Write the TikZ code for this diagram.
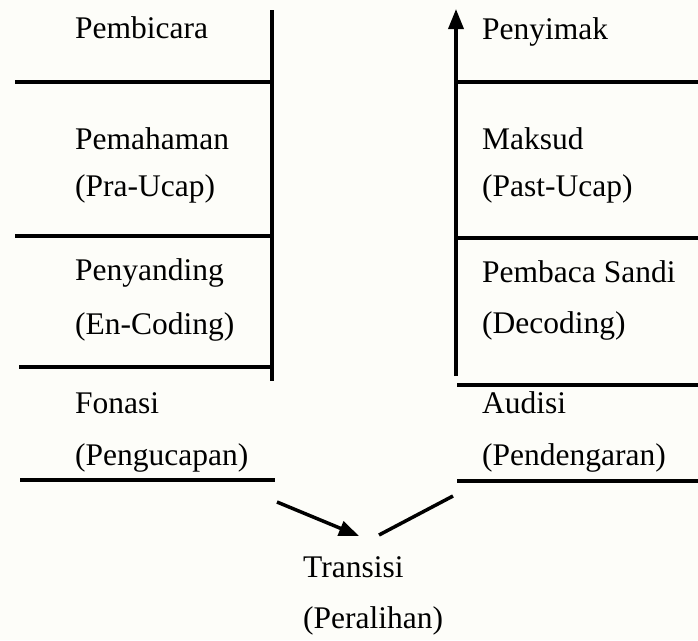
\documentclass[tikz,border=0pt]{standalone}
\usepackage{fontspec}
\setmainfont{Liberation Serif}
\usetikzlibrary{arrows.meta}
\definecolor{bgc}{RGB}{253,253,249}
\begin{document}
\begin{tikzpicture}[x=1pt,y=-1pt,
  lab/.style={anchor=base west,inner sep=0pt,font=\fontsize{31.5}{31.5}\selectfont},
  rule/.style={line width=3.5pt,black},
  arr/.style={line width=3.5pt,-{Triangle[length=20pt,width=15pt]}}]
\fill[bgc] (0,0) rectangle (698,640);
\useasboundingbox (0,0) rectangle (698,640);
% left column
\node[lab] (pembicara) at (75,38) {Pembicara};
\node[lab] (pemahaman) at (75,149) {Pemahaman};
\node[lab] (praucap) at (75,196) {(Pra-Ucap)};
\node[lab] (penyanding) at (75,280) {Penyanding};
\node[lab] (encoding) at (75,334) {(En-Coding)};
\node[lab] (fonasi) at (75,413) {Fonasi};
\node[lab] (pengucapan) at (75,465) {(Pengucapan)};
% right column
\node[lab] (penyimak) at (482,39) {Penyimak};
\node[lab] (maksud) at (482,149) {Maksud};
\node[lab] (pastucap) at (482,196) {(Past-Ucap)};
\node[lab] (pembaca) at (482,282) {Pembaca Sandi};
\node[lab] (decoding) at (482,333) {(Decoding)};
\node[lab] (audisi) at (482,413) {Audisi};
\node[lab] (pendengaran) at (482,465) {(Pendengaran)};
% center
\node[lab] (transisi) at (303,577) {Transisi};
\node[lab] (peralihan) at (303,628) {(Peralihan)};
% coordinates
\coordinate (lvt) at (272,10);
\coordinate (lvb) at (272,381);
\coordinate (rvt) at (456,9);
\coordinate (rvb) at (456,376);
\coordinate (l1a) at (15,82);  \coordinate (l1b) at (272,82);
\coordinate (l2a) at (15,236); \coordinate (l2b) at (272,236);
\coordinate (l3a) at (19,367); \coordinate (l3b) at (272,367);
\coordinate (l4a) at (20,480); \coordinate (l4b) at (275,480);
\coordinate (r1a) at (456,82);  \coordinate (r1b) at (698,82);
\coordinate (r2a) at (456,238); \coordinate (r2b) at (698,238);
\coordinate (r3a) at (457,385); \coordinate (r3b) at (698,385);
\coordinate (r4a) at (457,481); \coordinate (r4b) at (698,481);
\coordinate (a1s) at (277,502); \coordinate (a1e) at (359,536);
\coordinate (a2s) at (379,535); \coordinate (a2e) at (453,496);
% lines
\draw[rule] (lvt) -- (lvb);
\draw[rule] (l1a) -- (l1b);
\draw[rule] (l2a) -- (l2b);
\draw[rule] (l3a) -- (l3b);
\draw[rule] (l4a) -- (l4b);
\draw[rule] (r1a) -- (r1b);
\draw[rule] (r2a) -- (r2b);
\draw[rule] (r3a) -- (r3b);
\draw[rule] (r4a) -- (r4b);
\draw[arr] (rvb) -- (rvt);
\draw[arr] (a1s) -- (a1e);
\draw[rule] (a2s) -- (a2e);
\end{tikzpicture}
\end{document}
